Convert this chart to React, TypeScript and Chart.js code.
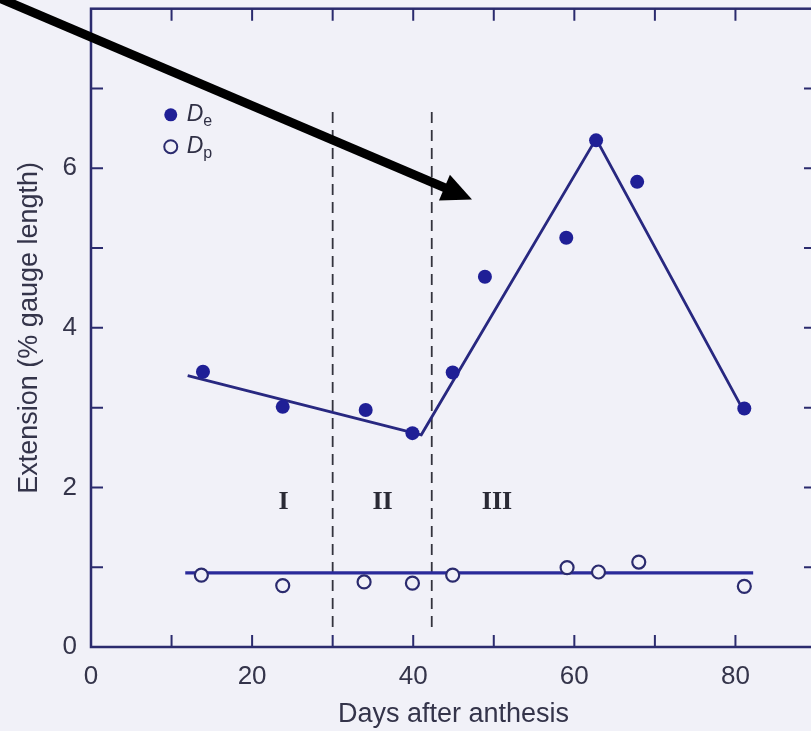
import React, { useEffect, useRef } from "react";
import { Chart, registerables } from "chart.js";

Chart.register(...registerables);

// ---- data ----
const deDays = [13.9, 23.8, 34.1, 39.9, 44.9, 48.9, 59.0, 62.7, 67.8, 81.1];
const deValues = [3.45, 3.01, 2.97, 2.68, 3.44, 4.64, 5.13, 6.35, 5.83, 2.99];

const dpDays = [13.7, 23.8, 33.9, 39.9, 44.9, 59.1, 63.0, 68.0, 81.1];
const dpValues = [0.9, 0.77, 0.815, 0.8, 0.9, 0.995, 0.94, 1.065, 0.76];

const deFitDays = [12, 41, 62.7, 80.8];
const deFitValues = [3.4, 2.66, 6.37, 3.0];

const dpFitDays = [11.7, 82.2];
const dpFitValues = [0.93, 0.93];

const stageBoundaryDays = [30, 42.3];
const stageBoundaryRange = [0.25, 6.75];
const stageLabels = ["I", "II", "III"];
const stageLabelDays = [23.9, 36.2, 50.4];
const stageLabelValue = 1.82;

const xTickLabels = [0, 20, 40, 60, 80];
const yTickLabels = [0, 2, 4, 6];

const legendNames = ["e", "p"];
const arrowFrom = { x: -12, y: 8.16 };
const arrowTo = { x: 47.3, y: 5.61 };

const NAVY = "#2b2b6e";
const BLUE = "#1f1f96";
const TEXT = "#34344a";
const BG = "#f1f1f8";

const framePlugin = {
  id: "frame",
  afterDatasetsDraw(chart: any) {
    const { ctx, chartArea: a, scales } = chart;
    const xs = scales.x;
    const ys = scales.y;
    ctx.save();
    // stage labels
    ctx.fillStyle = "#2a2a35";
    ctx.font = "bold 26px 'Liberation Serif', serif";
    ctx.textAlign = "center";
    ctx.textBaseline = "middle";
    stageLabels.forEach((t, i) => {
      ctx.fillText(t, xs.getPixelForValue(stageLabelDays[i]), ys.getPixelForValue(stageLabelValue));
    });

    // legend
    const lx = xs.getPixelForValue(9.9);
    const ly = [ys.getPixelForValue(6.67), ys.getPixelForValue(6.27)];
    legendNames.forEach((sub, i) => {
      ctx.beginPath();
      ctx.arc(lx, ly[i], 6.5, 0, Math.PI * 2);
      if (i === 0) {
        ctx.fillStyle = BLUE;
        ctx.fill();
      } else {
        ctx.fillStyle = BG;
        ctx.fill();
        ctx.lineWidth = 2;
        ctx.strokeStyle = NAVY;
        ctx.stroke();
      }
      ctx.fillStyle = "#303045";
      ctx.textAlign = "left";
      ctx.textBaseline = "middle";
      ctx.font = "italic 23px 'Liberation Sans', Arial, sans-serif";
      ctx.fillText("D", lx + 16, ly[i]);
      const w = ctx.measureText("D").width;
      ctx.font = "16px 'Liberation Sans', Arial, sans-serif";
      ctx.fillText(sub, lx + 16 + w, ly[i] + 7);
    });

    // frame
    ctx.strokeStyle = NAVY;
    ctx.lineWidth = 2.5;
    ctx.strokeRect(a.left, a.top, a.right - a.left, a.bottom - a.top);
    ctx.lineWidth = 2;
    const tl = 12;
    for (let v = 10; v < 90; v += 10) {
      const px = xs.getPixelForValue(v);
      ctx.beginPath();
      ctx.moveTo(px, a.bottom);
      ctx.lineTo(px, a.bottom - tl);
      ctx.moveTo(px, a.top);
      ctx.lineTo(px, a.top + tl);
      ctx.stroke();
    }
    for (let v = 1; v < 8; v += 1) {
      const py = ys.getPixelForValue(v);
      ctx.beginPath();
      ctx.moveTo(a.left, py);
      ctx.lineTo(a.left + tl, py);
      ctx.moveTo(a.right, py);
      ctx.lineTo(a.right - tl, py);
      ctx.stroke();
    }

    // arrow
    const x0 = xs.getPixelForValue(arrowFrom.x);
    const y0 = ys.getPixelForValue(arrowFrom.y);
    const x1 = xs.getPixelForValue(arrowTo.x);
    const y1 = ys.getPixelForValue(arrowTo.y);
    const dx = x1 - x0;
    const dy = y1 - y0;
    const len = Math.hypot(dx, dy);
    const ux = dx / len;
    const uy = dy / len;
    const headLen = 30;
    const headHalf = 14;
    const bx = x1 - ux * headLen;
    const by = y1 - uy * headLen;
    ctx.strokeStyle = "#000";
    ctx.fillStyle = "#000";
    ctx.lineWidth = 9;
    ctx.lineCap = "butt";
    ctx.beginPath();
    ctx.moveTo(x0, y0);
    ctx.lineTo(bx + ux * 2, by + uy * 2);
    ctx.stroke();
    ctx.beginPath();
    ctx.moveTo(x1, y1);
    ctx.lineTo(bx - uy * headHalf, by + ux * headHalf);
    ctx.lineTo(bx + uy * headHalf, by - ux * headHalf);
    ctx.closePath();
    ctx.fill();
    ctx.restore();
  },
};

export default function App() {
  const ref = useRef<HTMLCanvasElement | null>(null);

  useEffect(() => {
    if (!ref.current) return;
    const pts = (xs: number[], ys: number[]) => xs.map((x, i) => ({ x, y: ys[i] }));
    const boundaryDatasets = stageBoundaryDays.map((d) => ({
      type: "line" as const,
      data: [
        { x: d, y: stageBoundaryRange[0] },
        { x: d, y: stageBoundaryRange[1] },
      ],
      borderColor: "#33333d",
      borderWidth: 1.8,
      borderDash: [11, 7],
      pointRadius: 0,
      showLine: true,
      fill: false,
    }));

    const chart = new Chart(ref.current, {
      type: "scatter",
      data: {
        datasets: [
          {
            label: "De",
            data: pts(deDays, deValues),
            backgroundColor: BLUE,
            borderColor: BLUE,
            pointRadius: 7,
            borderWidth: 0,
          },
          {
            label: "Dp",
            data: pts(dpDays, dpValues),
            backgroundColor: BG,
            borderColor: NAVY,
            pointRadius: 6.5,
            borderWidth: 2.2,
          },
          {
            type: "line",
            label: "De fit",
            data: pts(deFitDays, deFitValues),
            borderColor: "#282880",
            borderWidth: 2.8,
            pointRadius: 0,
            showLine: true,
            fill: false,
          },
          {
            type: "line",
            label: "Dp fit",
            data: pts(dpFitDays, dpFitValues),
            borderColor: "#2a2a9a",
            borderWidth: 3.2,
            pointRadius: 0,
            showLine: true,
            fill: false,
          },
          ...boundaryDatasets,
        ] as any,
      },
      options: {
        animation: false,
        responsive: false,
        layout: { padding: { left: 0, right: 14, top: 7, bottom: 0 } },
        plugins: { legend: { display: false }, tooltip: { enabled: false } },
        scales: {
          x: {
            type: "linear",
            min: 0,
            max: 90,
            afterFit: (s: any) => {
              s.height = 84;
              s.paddingLeft = 0;
              s.paddingRight = 0;
            },
            grid: { display: true, drawOnChartArea: false, drawTicks: false },
            border: { display: false },
            ticks: {
              stepSize: 10,
              autoSkip: false,
              maxRotation: 0,
              padding: 14,
              color: TEXT,
              font: { size: 26, family: "'Liberation Sans', Arial, sans-serif" },
              callback: (v: any) => (xTickLabels.includes(Number(v)) ? String(v) : ""),
            },
            title: {
              display: true,
              text: "Days after anthesis",
              color: TEXT,
              padding: { top: 0, bottom: 0 },
              font: { size: 27, family: "'Liberation Sans', Arial, sans-serif" },
            },
          },
          y: {
            type: "linear",
            min: 0,
            max: 8,
            afterFit: (s: any) => {
              s.width = 91;
              s.paddingTop = 0;
              s.paddingBottom = 0;
            },
            grid: { display: true, drawOnChartArea: false, drawTicks: false },
            border: { display: false },
            ticks: {
              stepSize: 1,
              autoSkip: false,
              padding: 14,
              color: TEXT,
              font: { size: 26, family: "'Liberation Sans', Arial, sans-serif" },
              callback: (v: any) => (yTickLabels.includes(Number(v)) ? String(v) : ""),
            },
            title: {
              display: true,
              text: "Extension (% gauge length)",
              color: TEXT,
              padding: { top: 13, bottom: 0 },
              font: { size: 27, family: "'Liberation Sans', Arial, sans-serif" },
            },
          },
        },
      },
      plugins: [framePlugin],
    } as any);
    return () => chart.destroy();
  }, []);

  return (
    <div
      style={{
        position: "fixed",
        left: 0,
        top: 0,
        width: 811,
        height: 731,
        overflow: "hidden",
        background: BG,
      }}
    >
      <canvas ref={ref} width={830} height={731} style={{ width: 830, height: 731, display: "block" }} />
    </div>
  );
}
